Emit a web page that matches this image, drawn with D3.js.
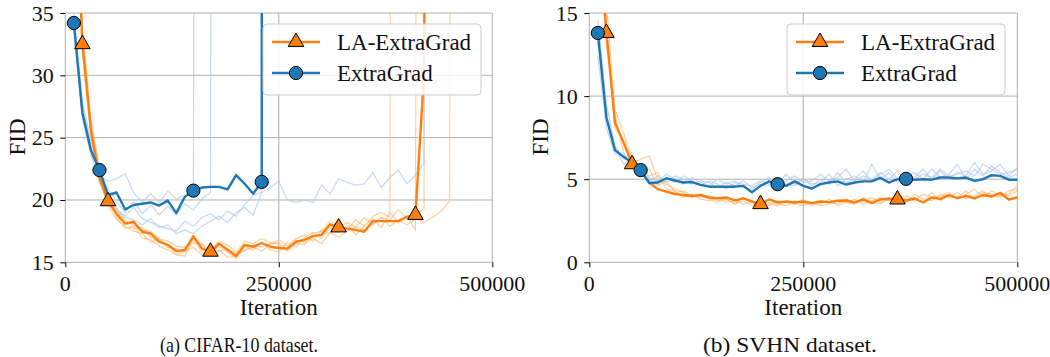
<!DOCTYPE html>
<html>
<head>
<meta charset="utf-8">
<script src="https://cdnjs.cloudflare.com/ajax/libs/d3/7.8.5/d3.min.js"></script>
<style>
	body { margin: 0; background: #fff; }
</style>
</head>
<body>
<script>

// evaluation points (every 10k iterations)
var iterations = d3.range(10000, 500001, 10000)
var xTicks = [0, 250000, 500000]
var seriesNames = ['LA-ExtraGrad', 'ExtraGrad']
var captions = ['(a) CIFAR-10 dataset.', '(b) SVHN dataset.']

// ---- CIFAR-10 ----
var cifarTicksY = [15, 20, 25, 30, 35]
var cifarLA = [48, 32.5, 25.6, 21.8, 19.9, 18.9, 18.1, 18.25, 17.45, 17.3,
	16.65, 16.4, 15.9, 16.0, 17.1, 16.1, 15.85, 16.5, 16.0, 15.5,
	16.4, 16.25, 16.55, 16.25, 16.15, 16.1, 16.65, 16.8, 17.1, 17.2,
	18.05, 17.8, 17.7, 17.6, 17.45, 18.3, 18.3, 18.3, 18.3, 18.65,
	18.8, 30, 150]
var cifarEG = [34.2, 27.0, 24.0, 22.4, 20.4, 20.6, 19.25, 19.6, 19.7, 19.8,
	19.55, 19.95, 18.95, 20.25, 20.75, 21.0, 21.05, 21.05, 20.85, 22.0,
	21.3, 20.5, 21.45, 2000]
var cifarLARuns = [
	[50, 33.5, 26.2, 22.3, 20.3, 18.6, 17.7, 17.9, 17.0, 16.8, 16.3, 16.0, 15.6, 15.5, 16.9, 15.8, 15.6, 16.0, 15.4, 15.5,
		16.0, 16.2, 15.9, 16.4, 16.8, 16.3, 16.9, 17.2, 16.7, 17.6, 17.3, 18.1, 17.6, 18.4, 17.9, 18.7, 19.0, 18.6, 300],
	[55, 32.0, 25.2, 21.5, 19.6, 18.4, 17.9, 17.5, 17.3, 16.6, 16.9, 16.2, 16.1, 15.8, 16.6, 16.4, 15.7, 16.3, 15.8, 15.3,
		16.3, 16.0, 16.6, 16.0, 15.8, 16.6, 16.2, 17.0, 17.4, 16.9, 17.8, 17.4, 18.0, 17.2, 17.9, 18.5, 17.8, 19.0, 18.2, 18.7,
		17.6, 300],
	[52, 33.0, 25.9, 22.0, 20.0, 19.1, 18.4, 18.0, 17.6, 17.5, 16.9, 16.7, 16.3, 16.2, 16.8, 16.5, 16.0, 16.7, 16.4, 15.8,
		16.7, 16.5, 16.9, 16.6, 16.4, 15.9, 16.5, 16.4, 17.3, 17.5, 18.3, 17.9, 18.2, 17.8, 18.6, 18.0, 18.6, 18.4, 19.2, 18.5,
		18.8, 19.3, 300],
	[58, 34.0, 26.5, 22.6, 20.6, 19.4, 18.2, 17.7, 17.8, 17.0, 16.6, 16.4, 15.6, 15.9, 16.2, 15.6, 15.5, 15.9, 16.1, 15.7,
		15.9, 16.4, 16.2, 16.5, 16.6, 16.0, 16.8, 16.6, 16.9, 16.5, 17.4, 17.0, 17.5, 17.9, 17.6, 18.1, 18.6, 17.9, 18.4, 18.0,
		18.5, 18.2, 18.6, 19.1, 19.9, 300]
]
var cifarEGRuns = [
	[33.8, 26.5, 23.6, 21.9, 21.5, 21.7, 22.1, 20.6, 19.8, 20.5, 19.8, 20.7, 20.1, 20.4, 20.6, 400],
	[34.6, 27.6, 24.3, 22.0, 20.9, 19.9, 19.0, 19.9, 18.9, 19.6, 18.8, 19.5, 18.8, 19.7, 19.2, 20.1, 20.6, 400],
	[34.0, 26.8, 23.8, 21.4, 20.1, 19.3, 18.7, 19.4, 18.5, 18.2, 17.9, 17.7, 17.5, 18.3, 17.9, 18.6, 18.9, 18.4, 19.1, 18.7,
		19.6, 20.4, 20.6, 21.0, 21.5, 20.0, 19.8, 20.0, 19.8, 21.2, 20.5, 21.7, 21.4, 21.2, 21.3, 22.2, 21.0, 21.8, 22.4, 21.3,
		22.0, 23.0, 300],
	[34.9, 27.9, 24.7, 22.3, 20.6, 19.2, 18.6, 18.4, 18.0, 18.5, 17.8, 18.0, 17.3, 17.6, 17.3, 17.9, 18.3, 18.7, 18.2, 19.0,
		19.4, 18.8, 20.6, 400]
]
var cifarLAMarks = [20000, 50000, 170000, 320000, 410000]
var cifarEGMarks = [10000, 40000, 150000, 230000]

// ---- SVHN ----
var svhnTicksY = [0, 5, 10, 15]
var svhnLA = [21, 13.8, 8.4, 7.2, 5.9, 5.46, 4.8, 4.4, 4.25, 4.11,
	4.05, 3.99, 4.05, 3.9, 3.85, 3.9, 3.72, 3.85, 3.66, 3.5,
	3.78, 3.6, 3.66, 3.6, 3.66, 3.56, 3.66, 3.62, 3.7, 3.72,
	3.6, 3.78, 3.56, 3.78, 3.82, 3.78, 3.72, 3.84, 3.6, 3.9,
	3.82, 4.04, 3.86, 4.0, 3.84, 4.05, 3.96, 4.17, 3.78, 3.9]
var svhnEG = [13.8, 8.7, 6.75, 6.35, 6.0, 5.55, 4.77, 4.8, 5.06, 4.92,
	4.8, 4.83, 4.66, 4.55, 4.55, 4.55, 4.55, 4.6, 4.22, 4.6,
	4.87, 4.7, 4.6, 4.87, 4.6, 4.44, 4.7, 4.8, 4.87, 4.68,
	4.8, 4.87, 4.87, 5.08, 4.8, 5.0, 5.02, 4.97, 5.0, 4.97,
	5.1, 5.1, 5.05, 5.1, 4.9, 5.0, 5.24, 5.2, 4.97, 4.97]
var svhnLARuns = [
	[23, 15.5, 9.2, 7.8, 6.0, 6.2, 6.4, 5.0, 4.7, 4.4, 4.2, 3.9, 4.1, 3.8, 3.6, 3.8, 3.5, 3.7, 3.4, 3.6,
		3.5, 3.4, 3.7, 3.5, 3.4, 3.6, 3.5, 3.8, 3.4, 3.6, 3.5, 3.9, 3.6, 3.5, 3.9, 3.6, 4.0, 3.8, 3.6, 4.2,
		3.7, 4.0, 3.9, 4.3, 3.8, 4.2, 4.1, 3.9, 4.3, 4.4],
	[19, 13.2, 8.9, 6.6, 5.7, 5.9, 5.2, 5.4, 4.4, 4.3, 3.9, 4.1, 3.8, 3.7, 3.9, 3.6, 3.7, 3.5, 3.6, 3.3,
		3.6, 3.5, 3.4, 3.7, 3.5, 3.6, 3.4, 3.5, 3.7, 3.6, 3.8, 3.5, 3.7, 3.9, 3.7, 3.8, 3.6, 4.1, 3.8, 3.7,
		4.1, 3.9, 4.2, 3.8, 4.0, 4.3, 3.9, 4.2, 4.0, 4.3],
	[22, 14.4, 8.0, 7.4, 6.3, 5.4, 5.6, 4.6, 4.9, 4.2, 4.3, 4.0, 3.9, 4.0, 3.7, 3.8, 3.5, 3.9, 3.6, 3.5,
		3.4, 3.7, 3.6, 3.5, 3.8, 3.4, 3.7, 3.6, 3.5, 3.8, 3.6, 3.7, 3.9, 3.6, 3.8, 4.0, 3.8, 3.7, 4.1, 3.9,
		4.0, 4.2, 3.8, 4.1, 4.4, 3.9, 4.3, 4.0, 4.1, 4.6]
]
var svhnEGRuns = [
	[14.6, 9.5, 7.0, 6.2, 6.1, 5.6, 5.1, 4.9, 5.3, 5.0, 4.7, 5.1, 4.8, 4.6, 5.0, 4.7, 4.9, 4.5, 4.4, 4.8,
		5.1, 4.6, 4.9, 5.2, 4.8, 4.9, 5.3, 4.9, 5.1, 5.6, 4.9, 5.2, 5.0, 5.4, 5.0, 5.5, 5.3, 5.0, 5.3, 5.1,
		5.6, 5.2, 5.3, 5.5, 5.2, 5.9, 5.6, 5.3, 5.4, 5.6],
	[12.4, 8.1, 6.5, 6.6, 5.8, 5.3, 4.9, 5.2, 4.8, 5.2, 5.0, 4.7, 4.9, 4.8, 4.5, 4.8, 4.6, 4.9, 4.5, 4.7,
		4.6, 5.0, 4.7, 4.6, 5.1, 4.7, 4.8, 5.3, 4.6, 5.0, 5.2, 4.8, 5.9, 5.0, 5.4, 4.8, 5.2, 5.4, 5.0, 5.6,
		5.1, 5.3, 5.9, 5.0, 5.6, 5.2, 5.8, 5.4, 5.1, 5.3],
	[13.2, 8.9, 6.9, 5.9, 6.2, 5.8, 5.0, 4.7, 5.0, 4.8, 5.2, 4.9, 4.6, 4.9, 4.7, 4.4, 4.8, 4.7, 4.6, 4.9,
		4.7, 4.8, 5.3, 4.7, 5.0, 4.6, 5.0, 4.7, 5.4, 4.8, 5.0, 5.5, 4.9, 5.3, 5.6, 5.0, 5.4, 5.1, 5.6, 5.0,
		5.5, 5.0, 5.4, 5.2, 6.0, 5.3, 5.5, 5.9, 5.2, 5.7]
]
var svhnLAMarks = [20000, 50000, 200000, 360000]
var svhnEGMarks = [10000, 60000, 220000, 370000]

var ORANGE = '#ff7f0e'
var BLUE = '#1f77b4'
var LIGHT_ORANGE = '#ffbb78'
var LIGHT_BLUE = '#aec7e8'
var GRID = '#b0b0b0'
var SERIF = 'Liberation Serif'
var INK = '#111'

var svg = d3.select('body')
	.append('svg')
	.attr('width', 1050)
	.attr('height', 357)
	.style('font-family', SERIF)

// small helper so every label gets the same font
function label(parent, txt, size) {
	return parent.append('text')
		.style('font-family', SERIF)
		.style('font-size', size + 'px')
		.attr('fill', INK)
		.text(txt)
}

function drawPanel(p) {
	var top = 13, bottom = 262.3
	var x = d3.scaleLinear().domain([0, 500000]).range(p.xRange)
	var y = d3.scaleLinear().domain(p.yDomain).range([bottom, top])
	var g = svg.append('g')

	// grid (no spines in the original, just gray grid)
	g.selectAll('.gx').data(xTicks).join('line')
		.attr('x1', d => x(d)).attr('x2', d => x(d))
		.attr('y1', top).attr('y2', bottom)
		.style('stroke', GRID).style('stroke-width', 1)
	g.selectAll('.gy').data(p.yTicks).join('line')
		.attr('x1', p.xRange[0]).attr('x2', p.xRange[1])
		.attr('y1', d => y(d)).attr('y2', d => y(d))
		.style('stroke', GRID).style('stroke-width', 1)

	// ticks, labels written by hand so the font is ours
	var xAxis = g.append('g').attr('transform', 'translate(0,' + bottom + ')')
		.call(d3.axisBottom(x).tickValues(xTicks).tickSize(5).tickFormat(''))
	var yAxis = g.append('g').attr('transform', 'translate(' + p.xRange[0] + ',0)')
		.call(d3.axisLeft(y).tickValues(p.yTicks).tickSize(5).tickFormat(''))
	;[xAxis, yAxis].forEach(a => {
		a.select('.domain').remove()
		a.selectAll('line').style('stroke', '#000').style('stroke-width', 1)
	})
	xTicks.forEach(t => {
		label(g, d3.format('d')(t), 22)
			.attr('x', x(t)).attr('y', bottom + 29).attr('text-anchor', 'middle')
	})
	p.yTicks.forEach(t => {
		label(g, d3.format('d')(t), 22)
			.attr('x', p.xRange[0] - 11.5).attr('y', y(t) + 7.5).attr('text-anchor', 'end')
	})

	// axis labels
	label(g, 'Iteration', 23)
		.attr('x', (p.xRange[0] + p.xRange[1]) / 2).attr('y', 315)
		.attr('text-anchor', 'middle')
	label(g, 'FID', 23)
		.attr('transform', 'translate(' + p.yLabelX + ',137) rotate(-90)')
		.attr('text-anchor', 'middle')

	// clip
	var clipId = 'clip' + p.id
	svg.append('clipPath').attr('id', clipId)
		.append('rect')
		.attr('x', p.xRange[0]).attr('y', top)
		.attr('width', p.xRange[1] - p.xRange[0]).attr('height', bottom - top)

	var line = d3.line().x((d, i) => x(iterations[i])).y(d => y(d))
	var plot = g.append('g').attr('clip-path', 'url(#' + clipId + ')')

	p.laRuns.forEach(r => {
		plot.append('path').attr('d', line(r))
			.style('fill', 'none').style('stroke', LIGHT_ORANGE)
			.style('stroke-opacity', 0.7).style('stroke-width', 1.2)
	})
	p.egRuns.forEach(r => {
		plot.append('path').attr('d', line(r))
			.style('fill', 'none').style('stroke', LIGHT_BLUE)
			.style('stroke-opacity', 0.7).style('stroke-width', 1.2)
	})

	var tri = d3.symbol().type(d3.symbolTriangle).size(105)
	var valueAt = (arr, it) => arr[iterations.indexOf(it)]

	// LA-ExtraGrad
	plot.append('path').attr('d', line(p.la))
		.style('fill', 'none').style('stroke', ORANGE).style('stroke-width', 2.4)
		.style('stroke-linejoin', 'round')
	g.selectAll('.laMark').data(p.laMarks).join('path')
		.attr('d', tri)
		.attr('transform', d => 'translate(' + x(d) + ',' + y(valueAt(p.la, d)) + ')')
		.style('fill', ORANGE).style('stroke', '#000').style('stroke-width', 1)

	// ExtraGrad
	plot.append('path').attr('d', line(p.eg))
		.style('fill', 'none').style('stroke', BLUE).style('stroke-width', 2.4)
		.style('stroke-linejoin', 'round')
	g.selectAll('.egMark').data(p.egMarks).join('circle')
		.attr('cx', d => x(d)).attr('cy', d => y(valueAt(p.eg, d)))
		.attr('r', 6.6)
		.style('fill', BLUE).style('stroke', '#000').style('stroke-width', 1)

	// legend
	var lg = g.append('g').attr('transform', 'translate(' + p.legendX + ',24)')
	lg.append('rect')
		.attr('width', 218).attr('height', 71).attr('rx', 4)
		.style('fill', '#fff').style('fill-opacity', 0.85)
		.style('stroke', '#cccccc').style('stroke-width', 1)
	var rows = [
		{ name: seriesNames[0], color: ORANGE, sym: 'tri' },
		{ name: seriesNames[1], color: BLUE, sym: 'circle' }
	]
	rows.forEach((r, i) => {
		var ry = 18 + i * 31
		lg.append('line')
			.attr('x1', 9).attr('x2', 57).attr('y1', ry).attr('y2', ry)
			.style('stroke', r.color).style('stroke-width', 2.4)
		if (r.sym == 'tri') {
			lg.append('path').attr('d', tri)
				.attr('transform', 'translate(33,' + ry + ')')
				.style('fill', r.color).style('stroke', '#000').style('stroke-width', 1)
		} else {
			lg.append('circle').attr('cx', 33).attr('cy', ry).attr('r', 6.6)
				.style('fill', r.color).style('stroke', '#000').style('stroke-width', 1)
		}
		label(lg, r.name, 23).attr('x', 74).attr('y', ry + 8)
	})

	// caption
	label(svg, p.caption, 22)
		.attr('x', p.captionX).attr('y', 352)
		.attr('textLength', p.captionW).attr('lengthAdjust', 'spacingAndGlyphs')
}

drawPanel({
	id: 'a', xRange: [65.3, 492.3], yDomain: [15, 35], yTicks: cifarTicksY,
	la: cifarLA, eg: cifarEG, laRuns: cifarLARuns, egRuns: cifarEGRuns,
	laMarks: cifarLAMarks, egMarks: cifarEGMarks,
	legendX: 263, yLabelX: 25, caption: captions[0], captionX: 160, captionW: 158
})
drawPanel({
	id: 'b', xRange: [589.3, 1017.3], yDomain: [0, 15], yTicks: svhnTicksY,
	la: svhnLA, eg: svhnEG, laRuns: svhnLARuns, egRuns: svhnEGRuns,
	laMarks: svhnLAMarks, egMarks: svhnEGMarks,
	legendX: 787, yLabelX: 548, caption: captions[1], captionX: 703, captionW: 174
})

</script>
</body>
</html>
